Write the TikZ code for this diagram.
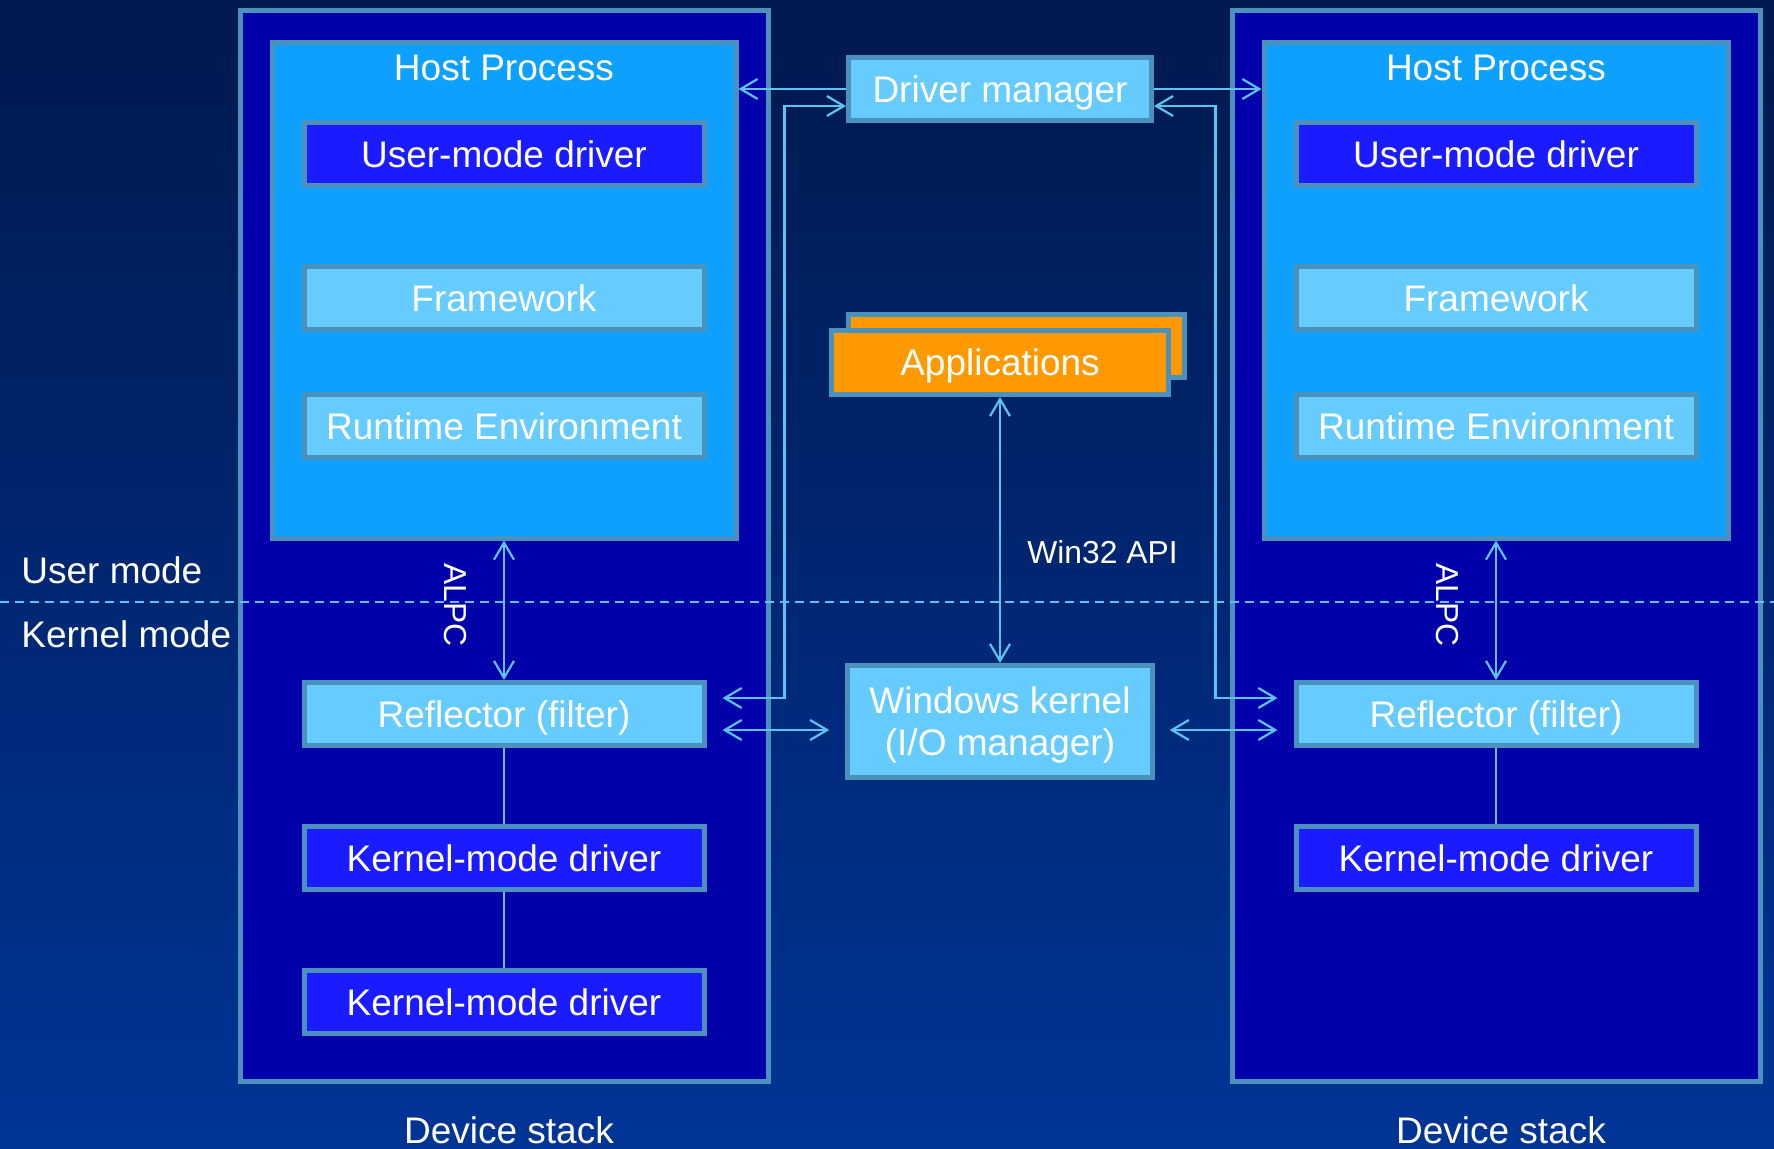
\documentclass[tikz,border=0pt]{standalone}
\usepackage{fontspec}
\setmainfont{Liberation Sans}
\usetikzlibrary{arrows.meta,calc}
\definecolor{bgtop}{RGB}{0,25,78}
\definecolor{bgbot}{RGB}{0,52,150}
\definecolor{stackblue}{RGB}{0,0,170}
\definecolor{hostblue}{RGB}{14,160,255}
\definecolor{drvblue}{RGB}{27,27,255}
\definecolor{liteblue}{RGB}{102,204,255}
\definecolor{edgeblue}{RGB}{74,146,189}
\definecolor{wireblue}{RGB}{92,196,245}
\definecolor{apporange}{RGB}{255,153,0}
\newcommand{\lblfont}{\fontsize{18.5}{20}\selectfont}
\newcommand{\kernfont}{\fontsize{18.5}{21.3}\selectfont}
\newcommand{\smfont}{\fontsize{15.9}{18}\selectfont}
\tikzset{
  stack/.style={draw=edgeblue,line width=2.5pt,fill=stackblue,inner sep=0pt},
  hostproc/.style={draw=edgeblue,line width=2.5pt,fill=hostblue,
    minimum width=232pt,minimum height=248pt,inner sep=0pt},
  drvbox/.style={draw=edgeblue,line width=2.5pt,minimum width=200pt,minimum height=31.5pt,
    inner sep=0pt,text=white,font=\lblfont,text height=13.25pt,text depth=0pt},
  darkdrv/.style={drvbox,fill=drvblue},
  litedrv/.style={drvbox,fill=liteblue},
  kernbox/.style={draw=edgeblue,line width=2.5pt,fill=liteblue,inner sep=0pt,
    text=white,font=\kernfont,align=center},
  lbl/.style={text=white,font=\lblfont,inner sep=0pt},
  smlbl/.style={text=white,font=\smfont,inner sep=0pt},
  wire/.style={draw=wireblue,line width=1pt},
  arr/.style={wire,line width=1.1pt,-{Straight Barb[length=8.5pt,width=10pt]}},
  dblarr/.style={wire,line width=1.1pt,
    {Straight Barb[length=8.5pt,width=10pt]}-{Straight Barb[length=8.5pt,width=10pt]}},
  modeline/.style={draw=wireblue,line width=1pt,dash pattern=on 4.5pt off 3pt},
}
\begin{document}
\begin{tikzpicture}[x=0.5pt,y=-0.5pt]
  \useasboundingbox (0,0) rectangle (1774,1148);
  \shade[top color=bgtop,bottom color=bgbot] (0,0) rectangle (1774,1148);
  % device stacks
  \foreach \s/\cx in {L/504,R/1496}{
    \node[stack,minimum width=264pt,minimum height=535.75pt] (stack\s) at (\cx,545.75) {};
  }
  % user / kernel boundary
  \coordinate (modeW) at (0,602);
  \coordinate (modeE) at (1774,602);
  \draw[modeline] (modeW) -- (modeE);
  \node[lbl,anchor=base west] (umode) at (21,583) {User mode};
  \node[lbl,anchor=base west] (kmode) at (21,647) {Kernel mode};
  \foreach \s/\cx in {L/504,R/1496}{
    \node[hostproc] (host\s) at (\cx,290) {};
    \node[lbl,anchor=base] (hostT\s) at (\cx,80) {Host Process};
    \node[darkdrv] (umd\s) at (\cx,154) {User-mode driver};
    \node[litedrv] (fw\s) at (\cx,298) {Framework};
    \node[litedrv] (rte\s) at (\cx,426) {Runtime Environment};
    \node[litedrv] (refl\s) at (\cx,714) {Reflector (filter)};
    \node[darkdrv] (kmdA\s) at (\cx,858) {Kernel-mode driver};
    \node[lbl,anchor=base] (dev\s) at (\cx+5,1143) {Device stack};
    \draw[dblarr] (host\s.south) -- (refl\s.north);
    \node[smlbl,rotate=-90] (alpc\s) at (\cx-49,605) {ALPC};
    \draw[wire] (refl\s.south) -- (kmdA\s.north);
  }
  \node[darkdrv] (kmdBL) at (504,1002) {Kernel-mode driver};
  \draw[wire] (kmdAL.south) -- (kmdBL.north);
  % middle column
  \node[litedrv,minimum width=151.5pt,minimum height=31.25pt] (dm) at (1000,89) {Driver manager};
  \node[drvbox,fill=apporange,minimum width=168pt] (appsB) at (1016.5,346) {};
  \node[drvbox,fill=apporange,minimum width=168.5pt,minimum height=32pt] (apps) at (1000,362.5) {Applications};
  \node[kernbox,minimum width=152.25pt,minimum height=56pt] (wk) at (1000,721.5)
    {\rule{0pt}{17pt}Windows kernel\\(I/O manager)};
  \draw[dblarr] (apps.south) -- (wk.north);
  \node[smlbl,anchor=base west] (win32) at (1027,563) {Win32 API};
  % driver manager links
  \draw[arr] (dm.west) -- (hostL.east |- dm.west);
  \draw[arr] (dm.east) -- (hostR.west |- dm.east);
  \coordinate (tapL) at ([yshift=8pt]reflL.east);
  \coordinate (tapR) at ([yshift=8pt]reflR.west);
  \draw[dblarr,shorten <=8pt] (tapL) -- ++(78,0) |- ([yshift=-8.5pt]dm.west);
  \draw[dblarr,shorten <=8pt] (tapR) -- ++(-78,0) |- ([yshift=-8.5pt]dm.east);
  % kernel links
  \coordinate (busL) at ([yshift=-8pt]reflL.east);
  \coordinate (busR) at ([yshift=-8pt]reflR.west);
  \draw[dblarr,shorten <=8pt,shorten >=8pt] (busL) -- (busL -| wk.west);
  \draw[dblarr,shorten <=8pt,shorten >=7.5pt] (busR) -- (busR -| wk.east);
\end{tikzpicture}
\end{document}
